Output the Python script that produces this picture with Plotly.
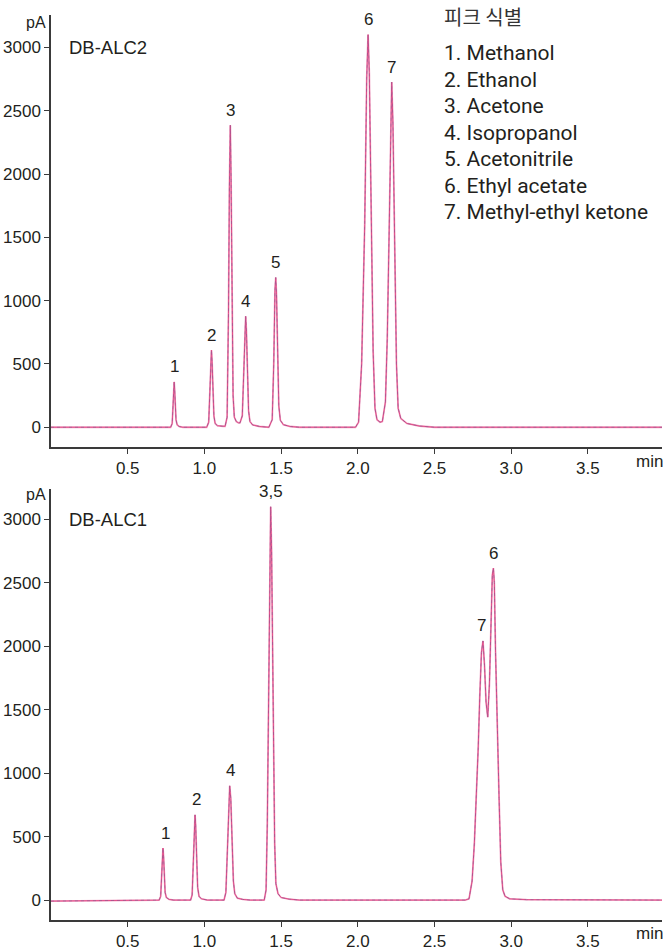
import plotly.graph_objects as go

# ---------------- DATA ----------------
# DB-ALC2 trace: retention time (min) and signal (pA)
alc2_time = [0.000, 0.700, 0.780, 0.790, 0.796, 0.800, 0.803, 0.806, 0.810, 0.815, 0.822, 0.835, 0.860,
             1.015, 1.028, 1.036, 1.042, 1.046, 1.050, 1.055, 1.062, 1.070, 1.085, 1.120,
             1.135, 1.148, 1.157, 1.163, 1.169, 1.174, 1.180, 1.187, 1.195, 1.208, 1.222,
             1.232, 1.247, 1.256, 1.264, 1.269, 1.274, 1.280, 1.288, 1.297, 1.315, 1.360, 1.420,
             1.442, 1.452, 1.460, 1.465, 1.470, 1.477, 1.485, 1.495, 1.515, 1.560, 1.620,
             1.985, 2.005, 2.025, 2.045, 2.058, 2.067, 2.075, 2.089, 2.100, 2.112, 2.125, 2.145, 2.160,
             2.180, 2.192, 2.203, 2.213, 2.221, 2.229, 2.241, 2.252, 2.263, 2.280, 2.320, 2.400, 2.500,
             3.983]
alc2_signal = [0, 0, 0, 30, 170, 310, 358, 300, 170, 60, 20, 6, 0,
               0, 40, 280, 540, 610, 520, 290, 90, 30, 12, 8,
               8, 80, 900, 1900, 2386, 1950, 1000, 250, 80, 45, 35,
               35, 90, 420, 800, 877, 760, 420, 130, 45, 18, 6, 0,
               60, 500, 1080, 1183, 1050, 560, 170, 55, 20, 6, 0,
               0, 40, 500, 1600, 2750, 3101, 2800, 1550, 600, 150, 60, 40, 45,
               200, 700, 1450, 2350, 2726, 2400, 1400, 500, 150, 70, 30, 10, 0,
               0]

# DB-ALC1 trace
alc1_time = [0.000, 0.500, 0.705, 0.715, 0.721, 0.726, 0.730, 0.734, 0.738, 0.744, 0.752, 0.770, 0.800,
             0.910, 0.920, 0.928, 0.935, 0.939, 0.943, 0.949, 0.956, 0.965, 0.980, 1.020,
             1.128, 1.140, 1.148, 1.157, 1.165, 1.172, 1.180, 1.189, 1.198, 1.215, 1.250, 1.300,
             1.390, 1.402, 1.410, 1.417, 1.425, 1.432, 1.438, 1.450, 1.458, 1.466, 1.480, 1.500, 1.550, 1.620,
             2.700, 2.725, 2.745, 2.760, 2.773, 2.785, 2.795, 2.806, 2.816, 2.826, 2.836, 2.847,
             2.858, 2.868, 2.877, 2.884, 2.890, 2.898, 2.904, 2.914, 2.921, 2.932, 2.945, 2.960, 2.990, 3.100,
             3.983]
alc1_signal = [-8, -6, 0, 30, 190, 350, 410, 340, 190, 60, 20, 5, 0,
               0, 40, 300, 600, 671, 590, 320, 100, 30, 10, 0,
               0, 60, 350, 780, 900, 800, 450, 150, 50, 15, 5, 0,
               0, 80, 600, 1549, 2700, 3098, 2750, 1500, 450, 130, 50, 20, 8, 0,
               0, 10, 150, 450, 800, 1200, 1600, 1950, 2041, 1850, 1560, 1441,
               1700, 2250, 2560, 2615, 2500, 1950, 1585, 1100, 800, 300, 80, 30, 10, 3,
               0]

# Peak labels
alc2_peak_labels = ["1", "2", "3", "4", "5", "6", "7"]
alc2_peak_time = [0.803, 1.046, 1.169, 1.269, 1.465, 2.067, 2.221]
alc2_peak_height = [358, 610, 2386, 877, 1183, 3101, 2726]

alc1_peak_labels = ["1", "2", "4", "3,5", "7", "6"]
alc1_peak_time = [0.745, 0.950, 1.169, 1.435, 2.808, 2.882]
alc1_peak_height = [410, 671, 900, 3098, 2041, 2615]

x_tick_vals = [0.5, 1.0, 1.5, 2.0, 2.5, 3.0, 3.5]
x_tick_text = ["0.5", "1.0", "1.5", "2.0", "2.5", "3.0", "3.5"]
y_tick_vals = [0, 500, 1000, 1500, 2000, 2500, 3000]
y_tick_text = ["0", "500", "1000", "1500", "2000", "2500", "3000"]

legend_title = "피크 식별"
legend_items = ["1. Methanol", "2. Ethanol", "3. Acetone", "4. Isopropanol",
                "5. Acetonitrile", "6. Ethyl acetate", "7. Methyl-ethyl ketone"]

# ---------------- STYLE ----------------
W, H = 663, 952
ML, MR, MT, MB = 51, 1, 15, 26
PW, PH = W - ML - MR, H - MT - MB

def px(x):
    return (x - ML) / PW

def py(y):
    return (H - MB - y) / PH

NARROW = "Liberation Sans Narrow, Arial Narrow, Liberation Sans, sans-serif"
TXT = "#231f20"
AX = "#3a3a3a"

fig = go.Figure()

def add_trace_set(t, s, xa, ya):
    fig.add_trace(go.Scatter(x=t, y=s, mode="lines", xaxis=xa, yaxis=ya,
                             line=dict(color="#f0a5c6", width=1.8), hoverinfo="skip", showlegend=False))
    fig.add_trace(go.Scatter(x=t, y=s, mode="lines", xaxis=xa, yaxis=ya, opacity=0.6,
                             line=dict(color="#d6145f", width=1.0), hoverinfo="skip", showlegend=False))
    fig.add_trace(go.Scatter(x=t, y=s, mode="lines", xaxis=xa, yaxis=ya, opacity=0.35,
                             line=dict(color="#5a5a94", width=1.0, dash="dot"), hoverinfo="skip", showlegend=False))

add_trace_set(alc2_time, alc2_signal, "x", "y")
add_trace_set(alc1_time, alc1_signal, "x2", "y2")

axis_common = dict(showline=True, linecolor=AX, linewidth=1.5, ticks="outside", ticklen=5,
                   tickcolor=AX, tickwidth=1, showgrid=False, zeroline=False,
                   tickfont=dict(family=NARROW, size=17, color=TXT))

fig.update_layout(
    width=W, height=H,
    margin=dict(l=ML, r=MR, t=MT, b=MB),
    paper_bgcolor="white", plot_bgcolor="white",
    xaxis=dict(domain=[0, 1], range=[0, 3.983], anchor="y", tickvals=x_tick_vals, ticktext=x_tick_text, **axis_common),
    yaxis=dict(domain=[py(450), 1], range=[-157, 3256], anchor="x", tickvals=y_tick_vals, ticktext=y_tick_text, **axis_common),
    xaxis2=dict(domain=[0, 1], range=[0, 3.983], anchor="y2", tickvals=x_tick_vals, ticktext=x_tick_text, **axis_common),
    yaxis2=dict(domain=[0, py(492)], range=[-157, 3239], anchor="x2", tickvals=y_tick_vals, ticktext=y_tick_text, **axis_common),
)

ann = []
for lab, t, h in zip(alc2_peak_labels, alc2_peak_time, alc2_peak_height):
    ann.append(dict(x=t, y=h, xref="x", yref="y", text=lab, showarrow=False, yanchor="middle", yshift=15,
                    font=dict(family=NARROW, size=17, color=TXT)))
for lab, t, h in zip(alc1_peak_labels, alc1_peak_time, alc1_peak_height):
    ann.append(dict(x=t, y=h, xref="x2", yref="y2", text=lab, showarrow=False, yanchor="middle", yshift=15,
                    font=dict(family=NARROW, size=17, color=TXT)))

# panel names, units
for name, yy in [("DB-ALC2", 48), ("DB-ALC1", 523)]:
    ann.append(dict(x=px(67), y=py(yy), xref="paper", yref="paper", text=name, showarrow=False,
                    xanchor="left", yanchor="middle", font=dict(family=NARROW, size=18.5, color=TXT)))
for yy in [23, 498]:
    ann.append(dict(x=px(48), y=py(yy), xref="paper", yref="paper", text="pA", showarrow=False,
                    xanchor="right", yanchor="middle", font=dict(family=NARROW, size=16, color=TXT)))
for yy in [464, 940]:
    ann.append(dict(x=px(649), y=py(yy), xref="paper", yref="paper", text="min", showarrow=False,
                    xanchor="center", yanchor="middle", font=dict(family=NARROW, size=17, color=TXT)))

# legend block
ann.append(dict(x=px(442), y=py(17), xref="paper", yref="paper", text=legend_title, showarrow=False,
                xanchor="left", yanchor="middle", font=dict(family="Noto Sans CJK KR", size=20, color="#333333")))
for i, item in enumerate(legend_items):
    ann.append(dict(x=px(442), y=py(53.3 + i * 26.67), xref="paper", yref="paper", text=item, showarrow=False,
                    xanchor="left", yanchor="middle", font=dict(family="Roboto", size=21, color=TXT)))

fig.update_layout(annotations=ann)
fig.write_html("out.html", config={"displayModeBar": False},
               post_script="document.body.style.margin='0';document.body.style.overflow='hidden';")
